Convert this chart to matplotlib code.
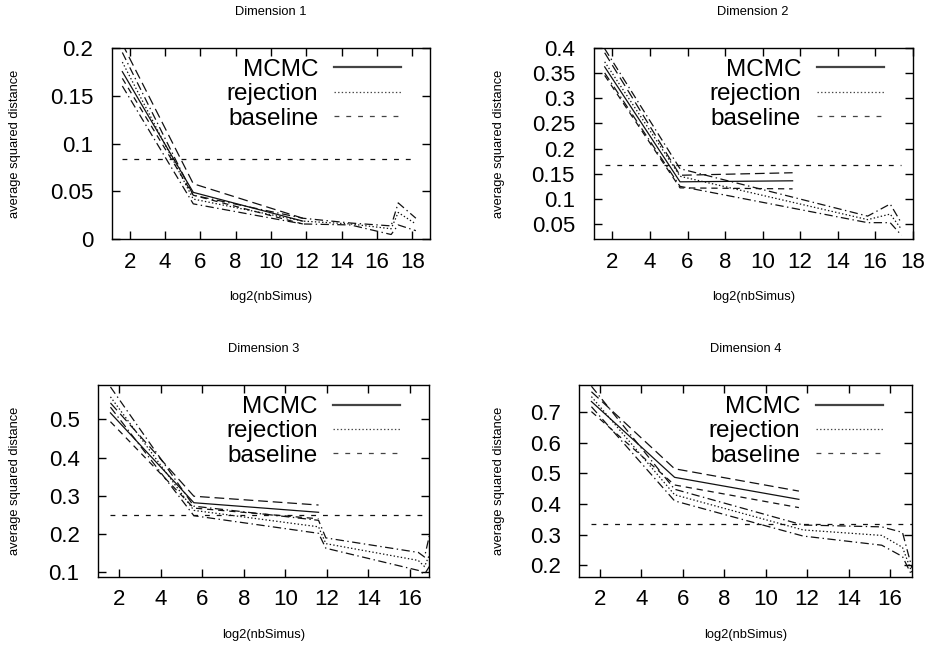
import matplotlib
matplotlib.use("Agg")
import matplotlib.pyplot as plt
from matplotlib.ticker import MultipleLocator, FuncFormatter

plt.rcParams['font.family'] = ['Liberation Sans', 'DejaVu Sans']
plt.rcParams['lines.scale_dashes'] = False

# ---------------- data ----------------
titles = ["Dimension 1", "Dimension 2", "Dimension 3", "Dimension 4"]
legend_labels = ["MCMC", "rejection", "baseline"]
xlabel = "log2(nbSimus)"
ylabel = "average squared distance"

# Dimension 1
x_mcmc_d1 = [1.585, 5.6, 11.8]
mcmc_mean_d1 = [0.175, 0.049, 0.019]
mcmc_hi_d1 = [0.204, 0.058, 0.022]
mcmc_lo_d1 = [0.168, 0.046, 0.016]
x_rej_d1 = [1.585, 5.6, 11.8, 14.5, 16.8, 17.2, 18.2]
rej_mean_d1 = [0.185, 0.042, 0.019, 0.016, 0.011, 0.028, 0.016]
rej_hi_d1 = [0.195, 0.046, 0.022, 0.017, 0.014, 0.038, 0.022]
rej_lo_d1 = [0.160, 0.037, 0.016, 0.015, 0.005, 0.015, 0.009]
baseline_d1 = 1 / 12

# Dimension 2
x_mcmc_d2 = [1.585, 5.6, 11.6]
mcmc_mean_d2 = [0.362, 0.134, 0.136]
mcmc_hi_d2 = [0.390, 0.147, 0.152]
mcmc_lo_d2 = [0.345, 0.122, 0.120]
x_rej_d2 = [1.585, 5.6, 15.6, 16.8, 17.4]
rej_mean_d2 = [0.372, 0.145, 0.059, 0.070, 0.040]
rej_hi_d2 = [0.398, 0.160, 0.066, 0.090, 0.052]
rej_lo_d2 = [0.350, 0.125, 0.053, 0.053, 0.028]
baseline_d2 = 2 / 12

# Dimension 3
x_mcmc_d3 = [1.585, 5.6, 11.6]
mcmc_mean_d3 = [0.517, 0.282, 0.257]
mcmc_hi_d3 = [0.543, 0.299, 0.276]
mcmc_lo_d3 = [0.494, 0.268, 0.240]
x_rej_d3 = [1.585, 5.6, 11.6, 11.95, 16.4, 16.7, 16.93]
rej_mean_d3 = [0.559, 0.262, 0.219, 0.175, 0.131, 0.115, 0.145]
rej_hi_d3 = [0.585, 0.273, 0.236, 0.190, 0.152, 0.140, 0.195]
rej_lo_d3 = [0.532, 0.248, 0.202, 0.163, 0.105, 0.095, 0.115]
baseline_d3 = 3 / 12

# Dimension 4
x_mcmc_d4 = [1.585, 5.6, 11.6]
mcmc_mean_d4 = [0.735, 0.487, 0.415]
mcmc_hi_d4 = [0.767, 0.515, 0.442]
mcmc_lo_d4 = [0.702, 0.462, 0.388]
x_rej_d4 = [1.585, 5.6, 11.8, 15.6, 16.6, 17.06]
rej_mean_d4 = [0.751, 0.430, 0.315, 0.297, 0.258, 0.175]
rej_hi_d4 = [0.785, 0.448, 0.331, 0.325, 0.307, 0.190]
rej_lo_d4 = [0.718, 0.410, 0.295, 0.265, 0.228, 0.165]
baseline_d4 = 4 / 12

x_limits = [(1, 19), (1, 18), (1, 16.93), (1, 17.06)]
y_limits = [(0, 0.2), (0.02, 0.4), (0.0885, 0.59), (0.162, 0.789)]
y_steps = [0.05, 0.05, 0.1, 0.1]

panels = [
    (x_mcmc_d1, mcmc_mean_d1, mcmc_hi_d1, mcmc_lo_d1, x_rej_d1, rej_mean_d1, rej_hi_d1, rej_lo_d1, baseline_d1),
    (x_mcmc_d2, mcmc_mean_d2, mcmc_hi_d2, mcmc_lo_d2, x_rej_d2, rej_mean_d2, rej_hi_d2, rej_lo_d2, baseline_d2),
    (x_mcmc_d3, mcmc_mean_d3, mcmc_hi_d3, mcmc_lo_d3, x_rej_d3, rej_mean_d3, rej_hi_d3, rej_lo_d3, baseline_d3),
    (x_mcmc_d4, mcmc_mean_d4, mcmc_hi_d4, mcmc_lo_d4, x_rej_d4, rej_mean_d4, rej_hi_d4, rej_lo_d4, baseline_d4),
]

# ---------------- layout (pixels) ----------------
W, H = 926, 650
boxes = [(112, 47.7, 430, 239.3), (593.7, 47.7, 912.7, 239.3),
         (98.3, 385, 429.3, 576.7), (579.3, 385, 912, 576.7)]
ylabel_x = [15, 499, 15, 499]

fig = plt.figure(figsize=(W / 100, H / 100), dpi=100)

col = '#111111'
lw = 0.9
ls_mcmc = '-'
ls_mcmc_hi = (0, (7, 3.5))
ls_mcmc_lo = (0, (4.5, 3.5))
ls_rej = (0, (1, 1.6))
ls_rej_ci = (0, (6, 2.5, 1, 2.5))
ls_base = (0, (3.5, 5))

for i, (box, data) in enumerate(zip(boxes, panels)):
    l, t, r, b = box
    ax = fig.add_axes([l / W, (H - b) / H, (r - l) / W, (b - t) / H])
    xm, mm, mh, ml, xr, rm, rh, rl, base = data
    ax.plot(xm, mm, color=col, lw=lw, ls=ls_mcmc)
    ax.plot(xm, mh, color=col, lw=lw, ls=ls_mcmc_hi)
    ax.plot(xm, ml, color=col, lw=lw, ls=ls_mcmc_lo)
    ax.plot(xr, rm, color=col, lw=lw, ls=ls_rej)
    ax.plot(xr, rh, color=col, lw=lw, ls=ls_rej_ci)
    ax.plot(xr, rl, color=col, lw=lw, ls=ls_rej_ci)
    ax.plot([xr[0], xr[-1]], [base, base], color=col, lw=lw, ls=ls_base)

    ax.set_xlim(*x_limits[i])
    ax.set_ylim(*y_limits[i])
    ax.xaxis.set_major_locator(MultipleLocator(2))
    ax.yaxis.set_major_locator(MultipleLocator(y_steps[i]))
    ax.yaxis.set_major_formatter(FuncFormatter(lambda v, p: ('%g' % round(v, 4))))
    ax.tick_params(direction='in', length=6, width=1, top=True, right=True,
                   labelsize=16, colors='black')
    ax.tick_params(axis='x', pad=9)
    ax.tick_params(axis='y', pad=13.5)
    for s in ax.spines.values():
        s.set_linewidth(1)

    h1, = ax.plot([], [], color='#444444', lw=1.6, ls=ls_mcmc)
    h2, = ax.plot([], [], color='#444444', lw=lw, ls=ls_rej)
    h3, = ax.plot([], [], color='#444444', lw=lw, ls=ls_base)
    ax.legend([h1, h2, h3], legend_labels, loc='upper right',
              bbox_to_anchor=(1 - 29 / (r - l), 1 - 11 / (b - t)),
              frameon=False, markerfirst=False, fontsize=17.5,
              handlelength=2.75, handletextpad=0.65, labelspacing=0.1,
              borderpad=0, borderaxespad=0)

    cx = (l + r) / 2
    fig.text(cx / W, 1 - (t - 35.7) / H, titles[i], ha='center', va='center', fontsize=9.3)
    fig.text(cx / W, 1 - (b + 58) / H, xlabel, ha='center', va='center', fontsize=9.3)
    fig.text(ylabel_x[i] / W, 1 - ((t + b) / 2) / H, ylabel, ha='center', va='center',
             rotation=90, fontsize=9.3)

fig.savefig('out.png', dpi=100)
